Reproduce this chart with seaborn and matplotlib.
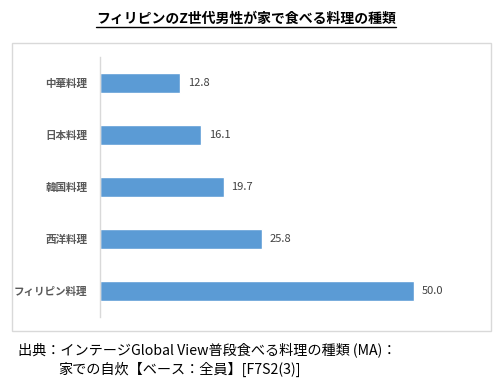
import matplotlib
matplotlib.use("Agg")
import matplotlib.pyplot as plt
import seaborn as sns
import pandas as pd
from matplotlib.patches import Rectangle

categories = ["中華料理", "日本料理", "韓国料理", "西洋料理", "フィリピン料理"]
values = [12.8, 16.1, 19.7, 25.8, 50.0]
title = "フィリピンのZ世代男性が家で食べる料理の種類"
footer1 = "出典：インテージGlobal View普段食べる料理の種類 (MA)："
footer2 = "家での自炊【ベース：全員】[F7S2(3)]"

sns.set_theme(style="white")
plt.rcParams['font.family'] = ['Noto Sans CJK JP', 'DejaVu Sans']

df = pd.DataFrame({"cat": categories, "val": values})

W, H = 498, 390
fig = plt.figure(figsize=(W / 100, H / 100), dpi=100)
ax = fig.add_axes([100 / W, 1 - 317 / H, 377 / W, 260 / H])

sns.barplot(data=df, x="val", y="cat", orient="h", color="#5B9BD5",
            width=0.37, ax=ax, saturation=1)
ax.set_xlim(0, 60)
ax.set_xlabel("")
ax.set_ylabel("")
ax.set_xticks([])
for s in ["top", "right", "bottom"]:
    ax.spines[s].set_visible(False)
ax.spines["left"].set_color("#D9D9D9")
ax.spines["left"].set_linewidth(1.0)
ax.tick_params(axis="y", length=0, pad=9, labelsize=7.6, labelcolor="#595959")
for lbl in ax.get_yticklabels():
    lbl.set_fontweight("bold")

for i, v in enumerate(values):
    ax.text(v + 1.2, i, f"{v:.1f}", va="center", ha="left",
            fontsize=8, color="#404040")

# outer chart box
fig.patches.append(Rectangle((12 / W, 1 - 331 / H), 479 / W, 288 / H,
                             transform=fig.transFigure, fill=False,
                             edgecolor="#D9D9D9", linewidth=1.0))

t = fig.text(246 / W, 1 - 19 / H, title, ha="center", va="center",
             fontsize=10, fontweight="bold", color="black")
# underline
fig.canvas.draw()
bb = t.get_window_extent()
fig.add_artist(plt.Line2D([bb.x0 / W, bb.x1 / W], [(bb.y0 - 1) / H, (bb.y0 - 1) / H],
                          transform=fig.transFigure, color="black", linewidth=1.0))

fig.text(18 / W, 1 - 350 / H, footer1, ha="left", va="center",
         fontsize=10.2, color="black")
fig.text(58 / W, 1 - 369 / H, footer2, ha="left", va="center",
         fontsize=10.2, color="black")

fig.savefig("out.png", dpi=100)
